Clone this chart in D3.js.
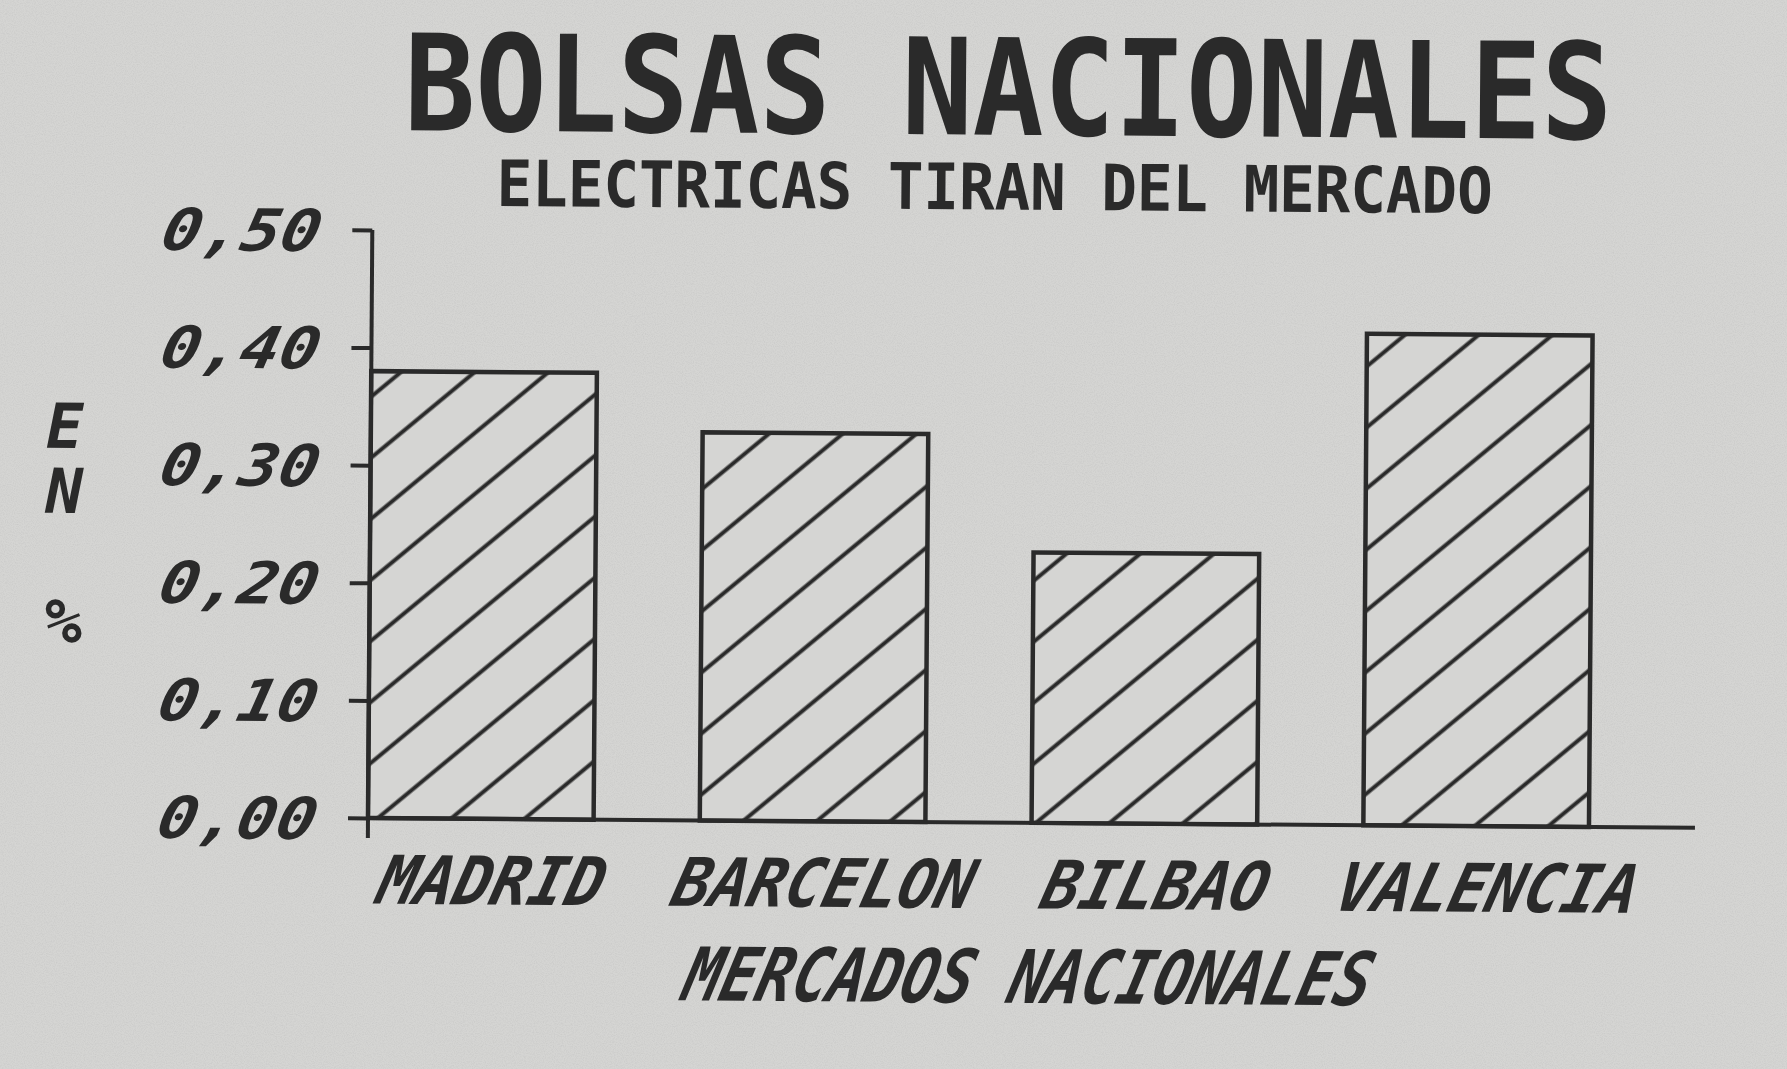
<!DOCTYPE html>
<html>
<head>
<meta charset="utf-8">
<script src="https://cdn.jsdelivr.net/npm/d3@7"></script>
<style>
  html, body { margin: 0; padding: 0; background: #d5d5d3; }
  svg { display: block; }
</style>
</head>
<body>
<div id="chart-container"></div>
<script>
// data
const categories = ["MADRID", "BARCELON", "BILBAO", "VALENCIA"];
const values = [0.38, 0.33, 0.23, 0.418];
const yTicks = [0, 0.1, 0.2, 0.3, 0.4, 0.5];
const yTickLabels = ["0,00", "0,10", "0,20", "0,30", "0,40", "0,50"];
const yTitle = "EN %";
const title = "BOLSAS NACIONALES";
const subtitle = "ELECTRICAS TIRAN DEL MERCADO";
const xTitle = "MERCADOS NACIONALES";

const width = 1787;
const height = 1069;
const ink = "#2a2a2a";
const paper = "#d5d5d3";
const font = "'DejaVu Sans Mono', 'Liberation Mono', monospace";

const svg = d3.select("#chart-container").append("svg")
    .attr("width", width)
    .attr("height", height);

const defs = svg.append("defs");

// paper grain
const grain = defs.append("filter").attr("id", "grain")
    .attr("x", 0).attr("y", 0).attr("width", "100%").attr("height", "100%");
grain.append("feTurbulence").attr("type", "fractalNoise")
    .attr("baseFrequency", 0.9).attr("numOctaves", 2).attr("seed", 3);
grain.append("feColorMatrix").attr("type", "matrix")
    .attr("values", "0 0 0 0 0.45  0 0 0 0 0.45  0 0 0 0 0.45  0 0 0 -1.6 1.0");

// diagonal hatch for bars
const hatch = defs.append("pattern")
    .attr("id", "hatch")
    .attr("patternUnits", "userSpaceOnUse")
    .attr("width", 47)
    .attr("height", 47)
    .attr("patternTransform", "rotate(-40)");
hatch.append("rect").attr("width", 47).attr("height", 47).attr("fill", paper);
hatch.append("path").attr("d", "M-2,23.5H49")
    .attr("stroke", ink).attr("stroke-width", 4);

svg.append("rect").attr("width", width).attr("height", height).attr("fill", paper);
svg.append("rect").attr("width", width).attr("height", height)
    .attr("filter", "url(#grain)").attr("opacity", 0.35);

// the scan is a touch tilted, pivot on the axis origin
const g = svg.append("g").attr("transform", "rotate(0.42, 368, 818)");

// title + subtitle in one text block
const head = g.append("text")
    .attr("text-anchor", "middle")
    .attr("font-family", font).attr("font-weight", "bold")
    .attr("fill", ink);
head.append("tspan")
    .attr("x", 1003).attr("y", 130)
    .attr("font-size", 134)
    .attr("textLength", 1208).attr("lengthAdjust", "spacingAndGlyphs")
    .text(title);
head.append("tspan")
    .attr("x", 990).attr("y", 205)
    .attr("font-size", 64)
    .attr("textLength", 996).attr("lengthAdjust", "spacingAndGlyphs")
    .text(subtitle);

// scales
const x = d3.scaleBand()
    .domain(categories)
    .range([368, 1589])
    .paddingInner(0.32)
    .paddingOuter(0);

const y = d3.scaleLinear()
    .domain([0, 0.5])
    .range([818, 230]);

// bars
g.selectAll("rect.bar")
    .data(values)
    .join("rect")
    .attr("class", "bar")
    .attr("x", (d, i) => x(categories[i]))
    .attr("y", d => y(d))
    .attr("width", x.bandwidth())
    .attr("height", d => y(0) - y(d))
    .attr("fill", "url(#hatch)")
    .attr("stroke", ink)
    .attr("stroke-width", 4.5);

// y axis
const yAxis = g.append("g")
    .attr("transform", `translate(${x.range()[0]},0)`)
    .call(d3.axisLeft(y)
        .tickValues(yTicks)
        .tickSize(20)
        .tickSizeOuter(0)
        .tickPadding(31)
        .tickFormat((d, i) => yTickLabels[i]));
yAxis.select(".domain").remove();
yAxis.selectAll(".tick line").attr("stroke", ink).attr("stroke-width", 4);
yAxis.selectAll(".tick text")
    .attr("fill", ink)
    .attr("font-family", font).attr("font-weight", "bold")
    .attr("font-style", "italic")
    .attr("font-size", 58)
    .attr("dy", "0.36em")
    .attr("textLength", 158).attr("lengthAdjust", "spacingAndGlyphs")
    .attr("transform", "skewX(-12)");

g.append("line")
    .attr("x1", x.range()[0]).attr("x2", x.range()[0])
    .attr("y1", y(0.5)).attr("y2", y(0) + 20)
    .attr("stroke", ink).attr("stroke-width", 4);

// x axis
const xAxis = g.append("g")
    .attr("transform", `translate(0,${y(0)})`)
    .call(d3.axisBottom(x).tickSize(0).tickPadding(38));
xAxis.select(".domain").remove();
xAxis.selectAll(".tick text")
    .attr("fill", ink)
    .attr("font-family", font).attr("font-weight", "bold")
    .attr("font-style", "italic")
    .attr("font-size", 67)
    .attr("dy", "0.71em")
    .attr("textLength", d => d.length * 37.5)
    .attr("lengthAdjust", "spacingAndGlyphs")
    .attr("transform", "translate(28,0) skewX(-14)");

g.append("line")
    .attr("x1", x.range()[0]).attr("x2", 1695)
    .attr("y1", y(0)).attr("y2", y(0))
    .attr("stroke", ink).attr("stroke-width", 4);

// axis titles
g.append("text")
    .attr("x", 1025).attr("y", 998)
    .attr("text-anchor", "middle")
    .attr("font-family", font).attr("font-weight", "bold")
    .attr("font-style", "italic")
    .attr("font-size", 74)
    .attr("textLength", 686).attr("lengthAdjust", "spacingAndGlyphs")
    .attr("fill", ink)
    .attr("transform", "skewX(-14) translate(248,0)")
    .text(xTitle);

// vertical "EN %", letters upright one under another
g.append("text")
    .attr("x", 62).attr("y", 392)
    .attr("font-family", font).attr("font-weight", "bold")
    .attr("font-style", "italic")
    .attr("font-size", 62)
    .attr("fill", ink)
    .style("writing-mode", "vertical-rl")
    .style("text-orientation", "upright")
    .style("letter-spacing", "-8px")
    .text(yTitle);
</script>
</body>
</html>
